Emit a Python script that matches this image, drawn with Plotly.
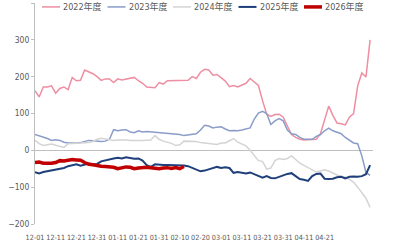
import plotly.graph_objects as go

# day offset from 12-01 for each sample (every 2 days)
x_all = list(range(0, 163, 2))
x_2026 = list(range(0, 73, 2))

tick_pos = [0, 10, 20, 30, 40, 50, 60, 70, 80, 90, 100, 110, 120, 130, 140]
tick_labels = ["12-01", "12-11", "12-21", "12-31", "01-11", "01-21", "01-31", "02-10",
               "02-20", "03-01", "03-11", "03-21", "03-31", "04-11", "04-21"]

s2022 = [162, 145, 172, 172, 175, 155, 168, 172, 165, 198, 189, 190, 218, 214, 208, 200,
         190, 194, 194, 184, 194, 191, 193, 197, 198, 189, 182, 172, 170, 170, 184, 180,
         189, 189, 189, 189, 189, 190, 200, 195, 212, 220, 218, 204, 206, 198, 188, 173,
         176, 172, 176, 182, 195, 185, 176, 135, 98, 92, 97, 98, 90, 66, 43, 35, 30, 28,
         28, 28, 30, 45, 80, 120, 95, 74, 72, 69, 90, 100, 175, 210, 199, 300]
s2023 = [43, 40, 37, 32, 27, 29, 27, 22, 20, 19, 20, 21, 24, 27, 26, 24,
         24, 25, 30, 56, 53, 55, 56, 50, 48, 53, 50, 51, 50, 49, 49, 48,
         48, 47, 45, 43, 40, 41, 43, 45, 55, 68, 66, 61, 63, 64, 58, 53,
         54, 53, 55, 58, 61, 85, 101, 106, 100, 70, 80, 86, 80, 55, 45, 43, 35, 30,
         29, 30, 38, 43, 53, 60, 53, 50, 45, 35, 27, 20, 18, -15, -60, -68]
s2024 = [27, 18, 13, 15, 17, 14, 10, 8, 18, 19, 20, 20, 20, 21, 24, 30,
         33, 31, 27, 27, 28, 29, 28, 27, 28, 27, 27, 27, 28, 40, 30, 25,
         22, 19, 13, 15, 25, 25, 24, 24, 21, 20, 19, 17, 16, 20, 20, 26,
         32, 22, 18, 12, 0, -14, -28, -30, -51, -48, -28, -22, -25, -22, -15, -25, -35, -41,
         -47, -53, -59, -56, -53, -56, -62, -67, -70, -72, -79, -86, -100, -115, -130, -155]
s2025 = [-59, -63, -59, -57, -56, -54, -52, -48, -43, -40, -38, -42, -40, -36, -38, -37,
         -30, -28, -26, -22, -20, -22, -19, -22, -23, -22, -28, -40, -45, -38, -40, -40,
         -40, -40, -40, -40, -41, -43, -47, -53, -57, -55, -52, -48, -45, -48, -46, -48,
         -61, -59, -61, -63, -60, -64, -70, -74, -70, -75, -76, -73, -68, -64, -62, -70, -78, -80,
         -83, -70, -64, -63, -77, -78, -77, -73, -72, -76, -72, -71, -72, -70, -65, -40]
s2026 = [-33, -32, -35, -36, -35, -33, -28, -29, -27, -25, -26, -27, -33, -38, -39, -42,
         -43, -44, -44, -46, -50, -48, -45, -46, -50, -48, -46, -46, -47, -48, -50, -48,
         -47, -49, -47, -50, -44]

series = [
    ("2022年度", x_all, s2022, "#ee8ea2", 1.5),
    ("2023年度", x_all, s2023, "#8a9cc8", 1.5),
    ("2024年度", x_all, s2024, "#d4d4d4", 1.5),
    ("2025年度", x_all, s2025, "#1f3f7a", 2),
    ("2026年度", x_2026, s2026, "#c00000", 3.5),
]

W, H = 400, 245
ML, MR, MT, MB = 35, 27, 3, 17
PW = W - ML - MR
PH = H - MT - MB


def px_to_paper_x(px):
    return (px - ML) / PW


def px_to_paper_y(py):
    return (H - MB - py) / PH


fig = go.Figure()
for name, xs, ys, color, w in series:
    fig.add_trace(go.Scatter(x=xs, y=ys, mode="lines", name=name, showlegend=False,
                             line=dict(color=color, width=w)))

font_fam = "Liberation Sans Narrow, DejaVu Sans Condensed, Noto Sans CJK SC, sans-serif"

# custom legend (line sample + label) along the top
leg_y = px_to_paper_y(7)
for i, (name, xs, ys, color, w) in enumerate(series):
    x0 = 42 + 65.5 * i
    fig.add_shape(type="line", xref="paper", yref="paper",
                  x0=px_to_paper_x(x0), x1=px_to_paper_x(x0 + 18), y0=leg_y, y1=leg_y,
                  line=dict(color=color, width=w))
    fig.add_annotation(xref="paper", yref="paper", x=px_to_paper_x(x0 + 19), y=leg_y,
                       xanchor="left", yanchor="middle", text=name, showarrow=False,
                       font=dict(family=font_fam, size=9, color="#595959"))

fig.update_layout(
    width=W, height=H,
    margin=dict(l=ML, r=MR, t=MT, b=MB),
    paper_bgcolor="white", plot_bgcolor="white",
    font=dict(family=font_fam, size=9, color="#595959"),
    showlegend=False,
    xaxis=dict(range=[0, 163.4], tickmode="array", tickvals=tick_pos, ticktext=tick_labels,
               tickangle=0, showgrid=False, zeroline=False, showline=False, ticks="",
               ticklabelstandoff=8,
               tickfont=dict(size=7.2, color="#595959")),
    yaxis=dict(range=[-200, 400], tickvals=[-200, -100, 0, 100, 200, 300, 400],
               showgrid=False, zeroline=True, zerolinecolor="#bfbfbf", zerolinewidth=1,
               showline=True, linecolor="#bfbfbf", linewidth=1, ticks="outside",
               ticklen=3, tickcolor="#bfbfbf",
               tickfont=dict(size=8.5, color="#595959")),
)

fig.write_html("out.html")
